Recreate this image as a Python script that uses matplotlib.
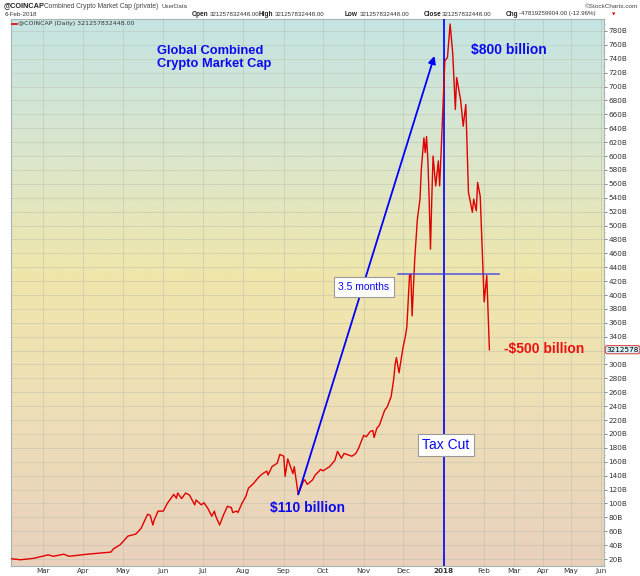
import numpy as np
import matplotlib
matplotlib.use("Agg")
import matplotlib.pyplot as plt
import matplotlib.transforms as mtransforms
from matplotlib.colors import LinearSegmentedColormap

# ---------------- data ----------------
dates = [
    "2017-02-05", "2017-02-12", "2017-02-22", "2017-03-05", "2017-03-09", "2017-03-17",
    "2017-03-21", "2017-04-04", "2017-04-14", "2017-04-22", "2017-04-24", "2017-04-29",
    "2017-05-05", "2017-05-11", "2017-05-15", "2017-05-20", "2017-05-22", "2017-05-24",
    "2017-05-25", "2017-05-28", "2017-06-01", "2017-06-04", "2017-06-09", "2017-06-11",
    "2017-06-12", "2017-06-15", "2017-06-18", "2017-06-21", "2017-06-25", "2017-06-26",
    "2017-06-30", "2017-07-02", "2017-07-05", "2017-07-08", "2017-07-10", "2017-07-11",
    "2017-07-14", "2017-07-17", "2017-07-20", "2017-07-23", "2017-07-24", "2017-07-27",
    "2017-07-28", "2017-07-31", "2017-08-03", "2017-08-05", "2017-08-09", "2017-08-12",
    "2017-08-14", "2017-08-16", "2017-08-19", "2017-08-20", "2017-08-23", "2017-08-27",
    "2017-08-29", "2017-09-01", "2017-09-02", "2017-09-04", "2017-09-08", "2017-09-09",
    "2017-09-12", "2017-09-16", "2017-09-17", "2017-09-19", "2017-09-23", "2017-09-25",
    "2017-09-28", "2017-09-29", "2017-10-01", "2017-10-06", "2017-10-10", "2017-10-12",
    "2017-10-15", "2017-10-17", "2017-10-23", "2017-10-26", "2017-10-28", "2017-11-01",
    "2017-11-03", "2017-11-06", "2017-11-08", "2017-11-09", "2017-11-11", "2017-11-13",
    "2017-11-17", "2017-11-19", "2017-11-22", "2017-11-24", "2017-11-25", "2017-11-26",
    "2017-11-28", "2017-12-01", "2017-12-03", "2017-12-04", "2017-12-06", "2017-12-07",
    "2017-12-08", "2017-12-10", "2017-12-12", "2017-12-14", "2017-12-15", "2017-12-17",
    "2017-12-18", "2017-12-19", "2017-12-20", "2017-12-21", "2017-12-22", "2017-12-23",
    "2017-12-24", "2017-12-26", "2017-12-28", "2017-12-29", "2017-12-30", "2018-01-02",
    "2018-01-04", "2018-01-06", "2018-01-08", "2018-01-10", "2018-01-11", "2018-01-14",
    "2018-01-16", "2018-01-18", "2018-01-20", "2018-01-23", "2018-01-24", "2018-01-26",
    "2018-01-27", "2018-01-29", "2018-01-30", "2018-02-01", "2018-02-03", "2018-02-05",
]
market_cap_b = [
    20.4, 19, 21, 26, 24, 27,
    24, 27, 28.6, 30, 34.8, 40.5,
    53, 56, 64, 84.5, 83, 69,
    76, 89, 89, 100, 113, 107.5,
    115, 107, 115, 112, 98, 105,
    98, 101, 93, 81.6, 89, 82,
    69, 83.6, 96, 94, 87, 89,
    87, 100, 110, 122, 129, 136,
    140, 143, 146.6, 141, 153, 158,
    170.6, 168, 139, 164, 143, 153,
    113, 132, 134, 127.5, 134, 141,
    146.6, 149, 147, 153, 162, 175,
    165, 172, 168, 172, 179, 198,
    196, 203.5, 205, 195, 208, 212.6,
    234, 239, 254, 280, 300, 310,
    288, 324, 342, 355, 428, 430,
    370, 452, 509, 538, 581, 626,
    605, 628, 595, 538, 466, 538,
    600, 557, 593, 557, 600, 737,
    742, 790, 748, 667, 713, 681,
    643, 674, 548, 519, 538, 521,
    562, 542, 490, 390, 428, 321.26,
]

month_ticks = ["2017-03-01", "2017-04-01", "2017-05-01", "2017-06-01", "2017-07-01",
               "2017-08-01", "2017-09-01", "2017-10-01", "2017-11-01", "2017-12-01",
               "2018-01-01", "2018-02-01", "2018-03-01", "2018-04-01", "2018-05-01",
               "2018-06-01"]
month_labels = ["Mar", "Apr", "May", "Jun", "Jul", "Aug", "Sep", "Oct", "Nov", "Dec",
                "2018", "Feb", "Mar", "Apr", "May", "Jun"]

y_ticks = list(range(20, 781, 20))
last_value = 321.26
last_label = "3212578"

# annotation anchors
low_point = ("2017-09-12", 113)
arrow_tip = ("2017-12-25", 744)
tax_cut_date = "2018-01-01"
half_level = 430
half_span = ("2017-11-27", "2018-02-13")

# ---------------- helpers ----------------
d64 = np.array(dates, dtype="datetime64[D]")
start, last = d64[0], d64[-1]
last_slot = int((last - start).astype(int))


def slot(d):
    d = np.datetime64(d, "D")
    if d <= last:
        return float((d - start).astype(int))
    # future area of a StockCharts chart is spaced by trading days
    return float(last_slot + np.busday_count(last, d) + 1)


xs = [slot(d) for d in dates]

W, H = 640, 576
fig = plt.figure(figsize=(W / 100, H / 100), dpi=100)
fig.patch.set_facecolor("white")

L, R, T, B = 11, 604, 19, 566
ax = fig.add_axes([L / W, 1 - B / H, (R - L) / W, (B - T) / H])

# background gradient
cmap = LinearSegmentedColormap.from_list(
    "bg",
    [(0.0, "#c5e4e3"), (0.25, "#dbe6cc"), (0.47, "#f0e6ab"),
     (0.70, "#eedfb6"), (1.0, "#e9d1bd")])
grad = np.linspace(0, 1, 256).reshape(-1, 1)
ax.imshow(grad, cmap=cmap, aspect="auto", extent=[0, 1, 0, 1],
          transform=ax.transAxes, zorder=0, origin="upper")

ax.set_xlim(-0.3, (R - L) / 1.3096 - 0.3)
ax.set_ylim(12.8, 797.2)

# grid
for v in y_ticks:
    ax.axhline(v, color="#b9bfae", lw=0.6, alpha=0.55, zorder=1)
tick_pos = [slot(d) for d in month_ticks]
for p in tick_pos:
    ax.axvline(p, color="#b9bfae", lw=0.6, alpha=0.6, zorder=1)

# price line
ax.plot(xs, market_cap_b, color="#e00000", lw=1.0, zorder=4)

# blue vertical (Tax cut date)
ax.axvline(slot(tax_cut_date), color="#0000ff", lw=1.2, zorder=3)

# horizontal half-way line
ax.plot([slot(half_span[0]), slot(half_span[1])], [half_level, half_level],
        color="#3a3ae6", lw=1.2, alpha=0.8, zorder=5)

# arrow
ax.annotate("", xy=(slot(arrow_tip[0]), arrow_tip[1]),
            xytext=(slot(low_point[0]), low_point[1]),
            arrowprops=dict(arrowstyle="-|>", color="#0000ff", lw=1.3,
                            mutation_scale=11, shrinkA=0, shrinkB=0),
            zorder=6)

# ticks / axes styling
ax.yaxis.tick_right()
ax.set_yticks(y_ticks)
# the last-value tag covers the 320B label, as in the reference
ylabels = ["" if abs(v - last_value) < 10 else f"{v}B" for v in y_ticks]
ax.set_yticklabels(ylabels, fontsize=5.2, color="#333333", family="DejaVu Sans")
ax.set_yticks(list(range(10, 800, 10)), minor=True)
ax.tick_params(axis="y", which="major", length=2, width=0.5, pad=1, colors="#555555",
               labelcolor="#333333")
ax.tick_params(axis="y", which="minor", length=1, width=0.4, colors="#777777")
ax.set_xticks(tick_pos)
ax.set_xticklabels(month_labels, fontsize=5.2, color="#333333", family="DejaVu Sans")
for lab in ax.get_xticklabels():
    if lab.get_text() == "2018":
        lab.set_fontweight("bold")
ax.tick_params(axis="x", length=0, pad=1.5)
for s in ax.spines.values():
    s.set_color("#a8b4b4")
    s.set_linewidth(0.8)

# last value tag on the right axis
trans = mtransforms.blended_transform_factory(ax.transAxes, ax.transData)
ax.text(1.004, last_value, last_label, transform=trans, fontsize=5.2, va="center",
        ha="left", color="black", family="DejaVu Sans", clip_on=False, zorder=10,
        bbox=dict(boxstyle="round,pad=0.15,rounding_size=0.3", fc="#d6f2f6",
                  ec="#e03030", lw=0.7))


# annotation texts (axes pixels)
def axpos(px, py):
    return ((px - L) / (R - L), (B - py) / (B - T))


bold = dict(family="Liberation Sans", fontweight="bold")
ax.text(*axpos(157, 51), "Global Combined", transform=ax.transAxes, color="#0a0aee",
        fontsize=9.3, va="center", ha="left", zorder=8, **bold)
ax.text(*axpos(157, 64.5), "Crypto Market Cap", transform=ax.transAxes, color="#0a0aee",
        fontsize=9.3, va="center", ha="left", zorder=8, **bold)
ax.text(*axpos(471, 50), "$800 billion", transform=ax.transAxes, color="#0a0aee",
        fontsize=10, va="center", ha="left", zorder=8, **bold)
ax.text(*axpos(270, 508), "$110 billion", transform=ax.transAxes, color="#0a0aee",
        fontsize=10, va="center", ha="left", zorder=8, **bold)
ax.text(*axpos(504, 349), "-$500 billion", transform=ax.transAxes, color="#ee1010",
        fontsize=10, va="center", ha="left", zorder=8, **bold)

ax.text(*axpos(364, 287), "3.5 months", transform=ax.transAxes, color="#0a0aee",
        fontsize=7.5, va="center", ha="center", zorder=9, family="Liberation Sans",
        bbox=dict(boxstyle="square,pad=0.45", fc="white", ec="#9a9a9a", lw=0.8))
ax.text(*axpos(446, 445), "Tax Cut", transform=ax.transAxes, color="#0a0aee",
        fontsize=10, va="center", ha="center", zorder=9, family="Liberation Sans",
        bbox=dict(boxstyle="square,pad=0.3", fc="white", ec="#9a9a9a", lw=0.8))

# legend row inside the chart
fig.add_artist(plt.Line2D([12 / W, 16.5 / W], [1 - 23.5 / H, 1 - 23.5 / H],
                          color="#e00000", lw=1.2))
fig.text(18 / W, 1 - 23.5 / H, "@COINCAP (Daily) 321257832448.00", fontsize=4.5,
         va="center", ha="left", color="#333333", family="DejaVu Sans")

# header
hf = "Liberation Sans"
fig.text(4 / W, 1 - 6 / H, "@COINCAP", fontsize=5.3, fontweight="bold", va="center",
         ha="left", color="#222222", family=hf)
fig.text(44 / W, 1 - 6.5 / H, "Combined Crypto Market Cap (private)", fontsize=4.8,
         va="center", ha="left", color="#444444", family=hf)
fig.text(162 / W, 1 - 6.5 / H, "UserData", fontsize=4.4, va="center", ha="left",
         color="#444444", family=hf)
fig.text(638 / W, 1 - 6.5 / H, "©StockCharts.com", fontsize=4.6, va="center", ha="right",
         color="#444444", family=hf)
fig.text(5 / W, 1 - 14 / H, "6-Feb-2018", fontsize=4.5, va="center", ha="left",
         color="#333333", family=hf)
hdr = [(192, "Open", True), (210, "321257832448.00", False),
       (259, "High", True), (275, "321257832448.00", False),
       (345, "Low", True), (360, "321257832448.00", False),
       (424, "Close", True), (442, "321257832448.00", False),
       (506, "Chg", True), (519, "-47819259904.00 (-12.96%)", False)]
for px, txt, b in hdr:
    fig.text(px / W, 1 - 14 / H, txt, fontsize=4.7 if b else 4.4,
             fontweight="bold" if b else "normal", va="center", ha="left",
             color="#222222" if b else "#333333", family=hf)
fig.text(612 / W, 1 - 14 / H, "▼", fontsize=3.2, va="center", ha="left",
         color="#dd0000", family="DejaVu Sans")

fig.savefig("out.png", dpi=100)
